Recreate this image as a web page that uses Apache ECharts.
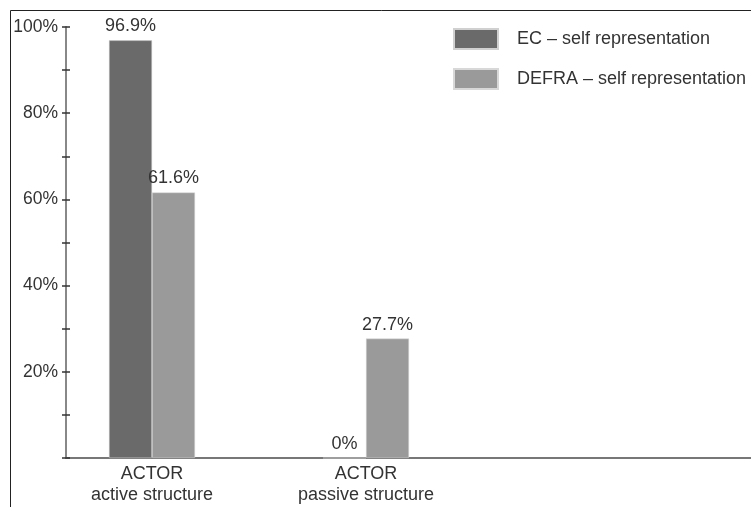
<!DOCTYPE html>
<html>
<head>
<meta charset="utf-8">
<script src="https://cdn.jsdelivr.net/npm/echarts@6/dist/echarts.min.js"></script>
<style>html,body{margin:0;padding:0;background:#fff}#c{width:751px;height:507px}</style>
</head>
<body>
<div id="c"></div>
<script>
var categories = ['ACTOR\nactive structure', 'ACTOR\npassive structure', ''];
var seriesNames = ['EC \u2013 self representation', 'DEFRA \u2013 self representation'];
var ecValues = [96.9, 0, null];
var defraValues = [61.6, 27.7, null];
var yTickLabels = ['20%', '40%', '60%', '80%', '100%'];

var chart = echarts.init(document.getElementById('c'));
var font = 'Liberation Sans, Arial, Helvetica, sans-serif';
var labelStyle = {show: true, position: 'top', distance: 5, fontFamily: font, fontSize: 18, color: '#333',
  formatter: function (p) { return p.value + '%'; }};

chart.setOption({
  animation: false,
  graphic: [{type: 'rect', shape: {x: 10.5, y: 10.5, width: 800, height: 600}, style: {fill: 'none', stroke: '#222', lineWidth: 1}, silent: true}],
  legend: {
    orient: 'vertical', left: 453, top: 28, padding: 0, itemWidth: 44, itemHeight: 20, itemGap: 18,
    icon: 'rect',
    textStyle: {fontFamily: font, fontSize: 18, lineHeight: 20, color: '#333', padding: [0, 0, 0, 14]},
    data: seriesNames
  },
  grid: [
    {left: 45, width: 642, top: 27, bottom: 49, containLabel: false},
    {left: 66, right: 0, top: 27, bottom: 49, containLabel: false}
  ],
  xAxis: [
    {type: 'category', gridIndex: 0, data: categories,
      axisLine: {show: false}, axisTick: {show: false},
      axisLabel: {fontFamily: font, fontSize: 18, color: '#333', lineHeight: 21, margin: 6}},
    {type: 'value', gridIndex: 1, min: 0, max: 1,
      axisLine: {show: true, lineStyle: {color: '#777', width: 2}}, axisTick: {show: false},
      axisLabel: {show: false}, splitLine: {show: false}}
  ],
  yAxis: [
    {type: 'value', gridIndex: 0, min: 0, max: 100, show: false},
    {type: 'value', gridIndex: 1, position: 'left', min: 0, max: 100, interval: 10,
      axisLine: {show: true, lineStyle: {color: '#888', width: 2}},
      axisTick: {show: true, length: 4, lineStyle: {color: '#333', width: 1.5}},
      splitLine: {show: false},
      axisLabel: {fontFamily: font, fontSize: 17.5, color: '#333', margin: 8,
        formatter: function (v) { var i = yTickLabels.indexOf(v + '%'); return i >= 0 ? yTickLabels[i] : ''; }}},
    {type: 'value', gridIndex: 1, position: 'left', offset: 0, min: 0, max: 100, interval: 10,
      axisLine: {show: false},
      axisTick: {show: true, inside: true, length: 4, lineStyle: {color: '#333', width: 1.5}},
      axisLabel: {show: false}, splitLine: {show: false}}
  ],
  series: [
    {name: seriesNames[0], type: 'bar', xAxisIndex: 0, yAxisIndex: 0, data: ecValues,
      barWidth: 43, barGap: '0%', itemStyle: {color: '#6a6a6a', borderColor: '#d0d0d0', borderWidth: 0.5}, label: labelStyle},
    {name: seriesNames[1], type: 'bar', xAxisIndex: 0, yAxisIndex: 0, data: defraValues,
      barWidth: 43, barGap: '0%', itemStyle: {color: '#9a9a9a', borderColor: '#d8d8d8', borderWidth: 0.5}, label: labelStyle}
  ]
});
</script>
</body>
</html>
